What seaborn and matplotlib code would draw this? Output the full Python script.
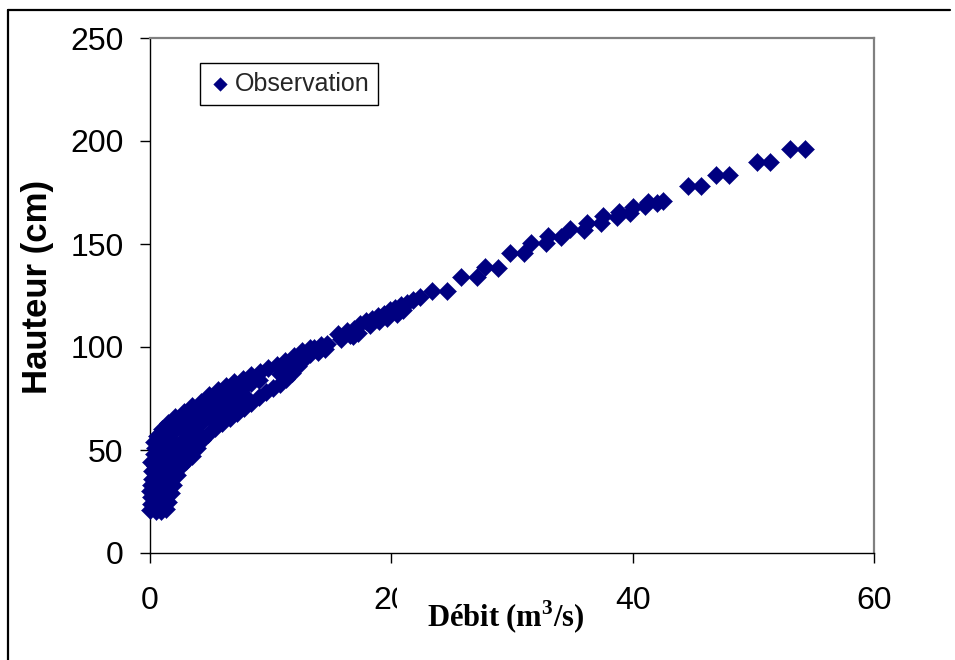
import matplotlib
matplotlib.use("Agg")
import matplotlib.pyplot as plt
import seaborn as sns
import pandas as pd
from matplotlib.lines import Line2D

# ---- data ----
# left column near Q ~ 0
q_base = [0.0, 0.1, 0.1, 0.0, 0.1, 0.2, 0.2, 0.1, 0.3, 0.4]
h_base = [21, 24, 27, 30, 33, 36, 40, 44, 48, 51]

# lower (right) branch of the loop
q_low = [0.5, 0.9, 1.3, 1.5, 1.7, 1.9, 2.2, 2.6, 3.0, 3.5, 3.9, 4.3, 4.8, 5.4,
         6.0, 6.6, 7.2, 7.8, 8.4, 9.0, 9.6, 10.2, 10.8, 11.3, 11.8, 12.3, 12.8, 13.3]
h_low = [20.5, 20.5, 21.5, 25, 29, 33, 38, 42, 44.5, 47, 51, 55, 58, 60.5,
         63, 65.5, 68, 70.5, 73, 75.5, 78, 80, 82, 84.5, 87.5, 91, 94, 96.5]

# upper branch of the loop
q_top = [0.3, 0.6, 1.0, 1.5, 2.1, 2.8, 3.5, 4.2, 4.9, 5.6, 6.3, 7.0, 7.7, 8.4,
         9.1, 9.8, 10.5, 11.2, 11.9, 12.6, 13.3]
h_top = [54, 57, 60, 63, 66, 68.5, 71.5, 73.5, 76.5, 79, 81, 83, 84.5, 86.5,
         88, 90, 91.5, 93, 95.5, 98, 99.5]

# intermediate events inside the loop
q_mid1 = [0.4, 0.7, 1.0, 1.3, 1.6, 2.0, 2.5, 3.0, 3.6, 4.2, 4.8, 5.4, 6.0, 6.6,
          7.2, 7.8, 8.4, 9.0, 10.8, 11.5, 12.2]
h_mid1 = [42, 46, 50, 53, 56, 59, 61, 63, 65.5, 68, 70.5, 73, 75, 77,
          79, 80.5, 82.5, 84, 87, 89.5, 92.5]
q_mid2 = [0.3, 0.6, 0.8, 1.0, 1.2, 1.4, 1.7, 2.0, 2.4, 2.8, 3.3, 3.8, 4.3, 4.9,
          5.5, 6.1, 6.7, 7.3, 7.9]
h_mid2 = [30, 33, 36, 39, 42, 45, 48, 51, 53, 55, 58, 61, 63.5, 66,
          68, 70, 72, 74, 76]
q_mid3 = [0.5, 0.7, 0.9, 1.1, 1.3, 1.6, 1.9, 2.3, 2.7, 3.1, 3.6, 4.1]
h_mid3 = [24, 27, 30, 33, 36, 40, 44, 47, 49, 51, 54, 58]

# merged section 13 - 22 m3/s
q_sec = [13.0, 13.6, 14.2, 14.7, 13.9, 14.5, 15.6, 15.8, 16.3, 16.8, 16.9, 17.4,
         17.9, 18.4, 18.9, 19.4, 19.9, 20.3, 20.8, 21.3, 16.6, 17.2, 18.2, 19.0,
         19.6, 20.5, 21.0]
h_sec = [97, 99.5, 101, 101.5, 97.5, 99, 106.5, 104, 108, 105.5, 108.5, 111,
         112.5, 113.5, 115, 116, 118, 119, 120.5, 121.5, 106, 107, 110.5, 112.5,
         114, 116, 118]

# sparse high flows
q_high = [21.8, 22.4, 23.4, 24.6, 25.8, 27.1, 27.8, 28.8, 29.8, 31.0, 31.6, 32.8,
          33.0, 34.1, 34.8, 36.0, 36.2, 37.4, 37.5, 38.7, 38.9, 39.8, 40.0, 41.0,
          41.3, 42.0, 42.5, 44.6, 45.7, 46.9, 48.0, 50.3, 51.4, 53.0, 54.3]
h_high = [122.8, 124.3, 127.2, 127.2, 134.0, 134.0, 138.8, 138.3, 145.6, 145.6,
          150.5, 150.5, 153.9, 153.4, 157.3, 156.8, 160.2, 160.2, 163.6, 163.1,
          165.5, 165.0, 168.0, 168.4, 170.4, 169.9, 170.9, 178.2, 178.2, 183.5,
          183.5, 189.8, 189.8, 196.1, 196.1]

x_ticks = [0, 20, 40, 60]
y_ticks = [0, 50, 100, 150, 200, 250]

q_all = q_base + q_low + q_top + q_mid1 + q_mid2 + q_mid3 + q_sec + q_high
h_all = h_base + h_low + h_top + h_mid1 + h_mid2 + h_mid3 + h_sec + h_high
df = pd.DataFrame({"Debit": q_all, "Hauteur": h_all})

# ---- style ----
sns.set_theme(style="white")
plt.rcParams["font.family"] = ["Liberation Sans", "DejaVu Sans"]
plt.rcParams["mathtext.fontset"] = "custom"
plt.rcParams["mathtext.bf"] = "Liberation Serif:bold"
plt.rcParams["mathtext.rm"] = "Liberation Serif:bold"

fig = plt.figure(figsize=(9.55, 6.6), dpi=100)
ax = fig.add_axes([150 / 955, 107 / 660, 724 / 955, 515 / 660])

navy = "#000080"
sns.scatterplot(data=df, x="Debit", y="Hauteur", marker="D", s=85,
                color=navy, edgecolor=navy, linewidth=0.3,
                label="Observation", ax=ax, clip_on=False, zorder=3)

ax.set_xlim(0, 60)
ax.set_ylim(0, 250)
ax.set_xticks(x_ticks)
ax.set_yticks(y_ticks)
ax.grid(False)

for side in ["left", "bottom"]:
    ax.spines[side].set_color("black")
    ax.spines[side].set_linewidth(1.0)
for side in ["top", "right"]:
    ax.spines[side].set_color("#808080")
    ax.spines[side].set_linewidth(1.6)

ax.tick_params(axis="both", which="major", bottom=True, left=True,
               direction="out", length=7, width=1, color="black",
               labelsize=23, labelcolor="black")
ax.tick_params(axis="y", pad=12)
ax.tick_params(axis="x", pad=17)

ax.set_xlabel(r"Débit (m$^{\mathbf{3}}$/s)",
              fontfamily=["Liberation Serif", "DejaVu Serif"],
              fontweight="bold", fontsize=22, color="black",
              bbox=dict(boxstyle="square,pad=1.0", fc="white", ec="none"))
ax.xaxis.set_label_coords(0.4917, -0.1243)
ax.xaxis.label.set_va("center")

ax.set_ylabel("Hauteur (cm)", fontweight="bold", fontsize=25, color="black")
ax.yaxis.set_label_coords(-0.156, 0.516)
ax.yaxis.label.set_va("center")

leg = ax.legend(loc="upper left", bbox_to_anchor=(0.069, 0.951),
                borderaxespad=0, frameon=True, fancybox=False,
                edgecolor="black", framealpha=1, fontsize=18,
                markerscale=0.75, handletextpad=0.15, borderpad=0.35,
                handlelength=0.9)
leg.get_frame().set_linewidth(1.0)

# outer frame lines (top and left)
fig.add_artist(Line2D([8 / 955, 950 / 955], [1 - 10 / 660, 1 - 10 / 660],
                      transform=fig.transFigure, color="black", lw=1.6))
fig.add_artist(Line2D([8 / 955, 8 / 955], [0, 1 - 10 / 660],
                      transform=fig.transFigure, color="black", lw=1.6))

fig.savefig("out.png", dpi=100, facecolor="white")
